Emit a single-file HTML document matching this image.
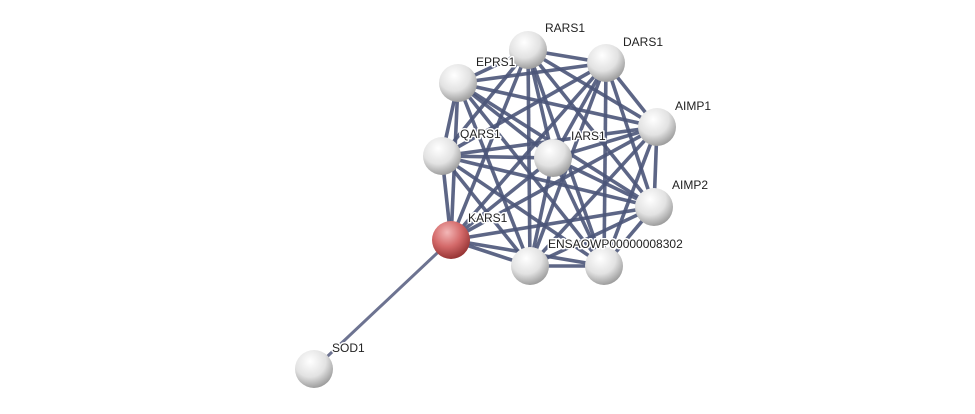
<!DOCTYPE html>
<html><head><meta charset="utf-8"><style>
html,body{margin:0;padding:0;background:#fff;}
svg{display:block;}
text{font-family:"Liberation Sans",sans-serif;font-size:12px;fill:#222;stroke:#fff;stroke-width:3px;stroke-linejoin:round;paint-order:stroke;}
</style></head><body>
<svg width="975" height="414" viewBox="0 0 975 414">
<defs>
<radialGradient id="g" cx="0.4" cy="0.3" r="0.75">
<stop offset="0" stop-color="#ffffff"/><stop offset="0.55" stop-color="#e2e2e2"/><stop offset="1" stop-color="#939393"/>
</radialGradient>
<radialGradient id="r" cx="0.4" cy="0.3" r="0.75">
<stop offset="0" stop-color="#f3b7b7"/><stop offset="0.5" stop-color="#d46a6a"/><stop offset="1" stop-color="#8e2d2d"/>
</radialGradient>
</defs>
<g id="edges" stroke="#4b5579" stroke-width="3.6" stroke-opacity="0.9"></g>
<line x1="451" y1="240" x2="314" y2="369" stroke="#6d7391" stroke-width="3"/>
<g id="nodes"></g>
<g id="labels"></g>
</svg>
<script>
var N=[["RARS1",528,50],["DARS1",606,63],["EPRS1",458,83],["AIMP1",657,127],["QARS1",442,156],["IARS1",553,158],["AIMP2",654,207],["KARS1",451,240],["ENSAOWP00000008302",530,266],["",604,266]];
var ns="http://www.w3.org/2000/svg",E=document.getElementById("edges"),G=document.getElementById("nodes"),T=document.getElementById("labels");
for(var i=0;i<N.length;i++)for(var j=i+1;j<N.length;j++){var l=document.createElementNS(ns,"line");l.setAttribute("x1",N[i][1]);l.setAttribute("y1",N[i][2]);l.setAttribute("x2",N[j][1]);l.setAttribute("y2",N[j][2]);E.appendChild(l);}
function node(x,y,f){var c=document.createElementNS(ns,"circle");c.setAttribute("cx",x);c.setAttribute("cy",y);c.setAttribute("r",19);c.setAttribute("fill",f);G.appendChild(c);}
function lab(t,x,y){var e=document.createElementNS(ns,"text");e.setAttribute("x",x);e.setAttribute("y",y);e.textContent=t;T.appendChild(e);}
N.forEach(function(n){node(n[1],n[2],n[0]=="KARS1"?"url(#r)":"url(#g)");});
node(314,369,"url(#g)");
var L=[["RARS1",545,32],["DARS1",623,46],["EPRS1",476,66],["AIMP1",675,110],["QARS1",460,138],["IARS1",571,140],["AIMP2",672,189],["KARS1",468,222],["ENSAOWP00000008302",548,248],["SOD1",332,352]];
L.forEach(function(a){lab(a[0],a[1],a[2]);});
</script>
</body></html>
